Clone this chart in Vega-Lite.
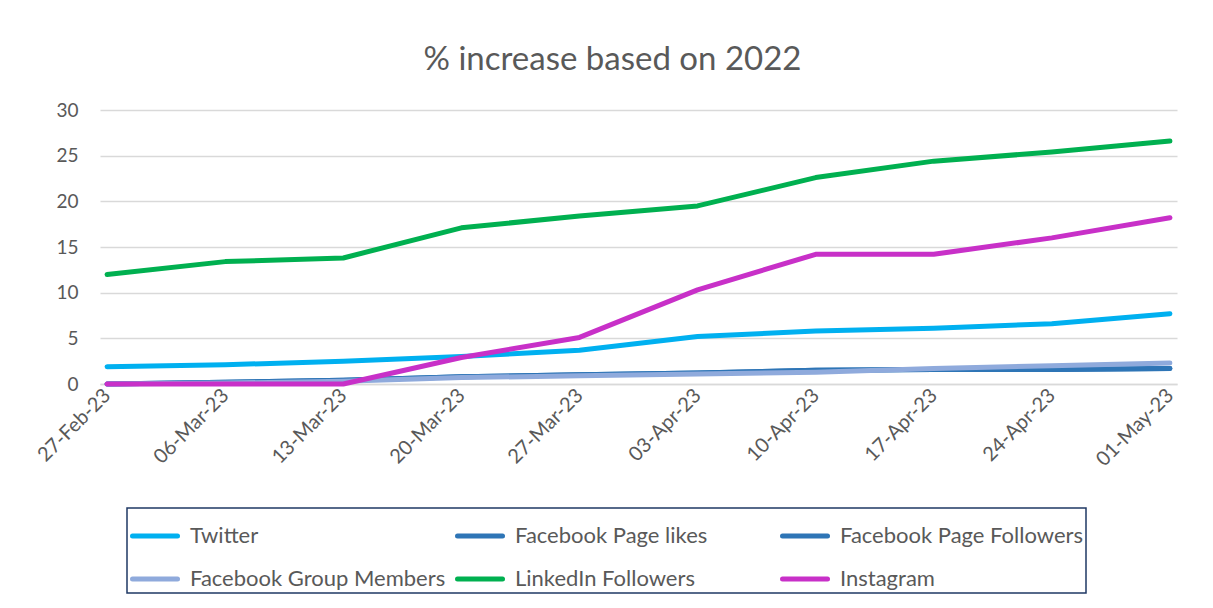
{
  "$schema": "https://vega.github.io/schema/vega-lite/v6.json",
  "width": 1077,
  "height": 274,
  "autosize": {"type": "none"},
  "padding": {"left": 100, "top": 110, "right": 36, "bottom": 224},
  "background": "white",
  "title": {
    "text": "% increase based on 2022",
    "font": "Lato",
    "fontSize": 33,
    "fontWeight": "normal",
    "color": "#595959",
    "anchor": "middle",
    "offset": 24,
    "dx": -26
  },
  "config": {
    "view": {"stroke": null},
    "font": "Lato",
    "legend": {"strokeColor": "#1F3864", "strokeWidth": 1.5}
  },
  "data": {
    "values": [
      {"date": "27-Feb-23", "series": "Twitter", "value": 1.9},
      {"date": "06-Mar-23", "series": "Twitter", "value": 2.1},
      {"date": "13-Mar-23", "series": "Twitter", "value": 2.5},
      {"date": "20-Mar-23", "series": "Twitter", "value": 3.0},
      {"date": "27-Mar-23", "series": "Twitter", "value": 3.7},
      {"date": "03-Apr-23", "series": "Twitter", "value": 5.2},
      {"date": "10-Apr-23", "series": "Twitter", "value": 5.8},
      {"date": "17-Apr-23", "series": "Twitter", "value": 6.1},
      {"date": "24-Apr-23", "series": "Twitter", "value": 6.6},
      {"date": "01-May-23", "series": "Twitter", "value": 7.7},

      {"date": "27-Feb-23", "series": "Facebook Page likes", "value": 0.0},
      {"date": "06-Mar-23", "series": "Facebook Page likes", "value": 0.2},
      {"date": "13-Mar-23", "series": "Facebook Page likes", "value": 0.4},
      {"date": "20-Mar-23", "series": "Facebook Page likes", "value": 0.8},
      {"date": "27-Mar-23", "series": "Facebook Page likes", "value": 1.0},
      {"date": "03-Apr-23", "series": "Facebook Page likes", "value": 1.2},
      {"date": "10-Apr-23", "series": "Facebook Page likes", "value": 1.5},
      {"date": "17-Apr-23", "series": "Facebook Page likes", "value": 1.6},
      {"date": "24-Apr-23", "series": "Facebook Page likes", "value": 1.6},
      {"date": "01-May-23", "series": "Facebook Page likes", "value": 1.7},

      {"date": "27-Feb-23", "series": "Facebook Page Followers", "value": 0.0},
      {"date": "06-Mar-23", "series": "Facebook Page Followers", "value": 0.2},
      {"date": "13-Mar-23", "series": "Facebook Page Followers", "value": 0.4},
      {"date": "20-Mar-23", "series": "Facebook Page Followers", "value": 0.8},
      {"date": "27-Mar-23", "series": "Facebook Page Followers", "value": 1.0},
      {"date": "03-Apr-23", "series": "Facebook Page Followers", "value": 1.2},
      {"date": "10-Apr-23", "series": "Facebook Page Followers", "value": 1.5},
      {"date": "17-Apr-23", "series": "Facebook Page Followers", "value": 1.6},
      {"date": "24-Apr-23", "series": "Facebook Page Followers", "value": 1.6},
      {"date": "01-May-23", "series": "Facebook Page Followers", "value": 1.7},

      {"date": "27-Feb-23", "series": "Facebook Group Members", "value": 0.0},
      {"date": "06-Mar-23", "series": "Facebook Group Members", "value": 0.1},
      {"date": "13-Mar-23", "series": "Facebook Group Members", "value": 0.3},
      {"date": "20-Mar-23", "series": "Facebook Group Members", "value": 0.7},
      {"date": "27-Mar-23", "series": "Facebook Group Members", "value": 0.9},
      {"date": "03-Apr-23", "series": "Facebook Group Members", "value": 1.1},
      {"date": "10-Apr-23", "series": "Facebook Group Members", "value": 1.3},
      {"date": "17-Apr-23", "series": "Facebook Group Members", "value": 1.7},
      {"date": "24-Apr-23", "series": "Facebook Group Members", "value": 2.0},
      {"date": "01-May-23", "series": "Facebook Group Members", "value": 2.3},

      {"date": "27-Feb-23", "series": "LinkedIn Followers", "value": 12.0},
      {"date": "06-Mar-23", "series": "LinkedIn Followers", "value": 13.4},
      {"date": "13-Mar-23", "series": "LinkedIn Followers", "value": 13.8},
      {"date": "20-Mar-23", "series": "LinkedIn Followers", "value": 17.1},
      {"date": "27-Mar-23", "series": "LinkedIn Followers", "value": 18.4},
      {"date": "03-Apr-23", "series": "LinkedIn Followers", "value": 19.5},
      {"date": "10-Apr-23", "series": "LinkedIn Followers", "value": 22.6},
      {"date": "17-Apr-23", "series": "LinkedIn Followers", "value": 24.4},
      {"date": "24-Apr-23", "series": "LinkedIn Followers", "value": 25.4},
      {"date": "01-May-23", "series": "LinkedIn Followers", "value": 26.6},

      {"date": "27-Feb-23", "series": "Instagram", "value": 0.0},
      {"date": "06-Mar-23", "series": "Instagram", "value": 0.0},
      {"date": "13-Mar-23", "series": "Instagram", "value": 0.0},
      {"date": "20-Mar-23", "series": "Instagram", "value": 2.9},
      {"date": "27-Mar-23", "series": "Instagram", "value": 5.1},
      {"date": "03-Apr-23", "series": "Instagram", "value": 10.3},
      {"date": "10-Apr-23", "series": "Instagram", "value": 14.2},
      {"date": "17-Apr-23", "series": "Instagram", "value": 14.2},
      {"date": "24-Apr-23", "series": "Instagram", "value": 16.0},
      {"date": "01-May-23", "series": "Instagram", "value": 18.2}
    ]
  },
  "mark": {"type": "line", "strokeWidth": 5, "strokeCap": "round", "strokeJoin": "round"},
  "encoding": {
    "x": {
      "field": "date",
      "type": "ordinal",
      "sort": null,
      "scale": {"type": "point", "padding": 0.06},
      "axis": {
        "title": null,
        "labelAngle": -45,
        "labelAlign": "right",
        "labelBaseline": "middle",
        "labelFont": "Lato",
        "labelFontSize": 20,
        "labelColor": "#595959",
        "labelPadding": 8,
        "ticks": false,
        "domainColor": "#D9D9D9",
        "domainWidth": 1.5,
        "grid": false
      }
    },
    "y": {
      "field": "value",
      "type": "quantitative",
      "scale": {"domain": [0, 30], "nice": false},
      "axis": {
        "title": null,
        "values": [0, 5, 10, 15, 20, 25, 30],
        "labelFont": "Lato",
        "labelFontSize": 19,
        "labelColor": "#595959",
        "labelPadding": 22,
        "ticks": false,
        "domain": false,
        "grid": true,
        "gridColor": "#D9D9D9",
        "gridWidth": 1.5
      }
    },
    "color": {
      "field": "series",
      "type": "nominal",
      "scale": {
        "domain": ["Twitter", "Facebook Page likes", "Facebook Page Followers", "Facebook Group Members", "LinkedIn Followers", "Instagram"],
        "range": ["#00B0F0", "#2E75B6", "#2E75B6", "#8FAADC", "#00B050", "#C830C8"]
      },
      "legend": {
        "title": null,
        "orient": "none",
        "legendX": 27,
        "legendY": 398,
        "direction": "horizontal",
        "columns": 3,
        "gridAlign": "all",
        "columnPadding": 1,
        "rowPadding": 7,
        "symbolType": "stroke",
        "symbolSize": 2025,
        "symbolStrokeWidth": 5,
        "labelFont": "Lato",
        "labelFontSize": 22,
        "labelColor": "#595959",
        "labelOffset": 10,
        "labelLimit": 400,
        "padding": 3,
        "encode": {"symbols": {"update": {"strokeCap": {"value": "round"}}}}
      }
    }
  }
}
